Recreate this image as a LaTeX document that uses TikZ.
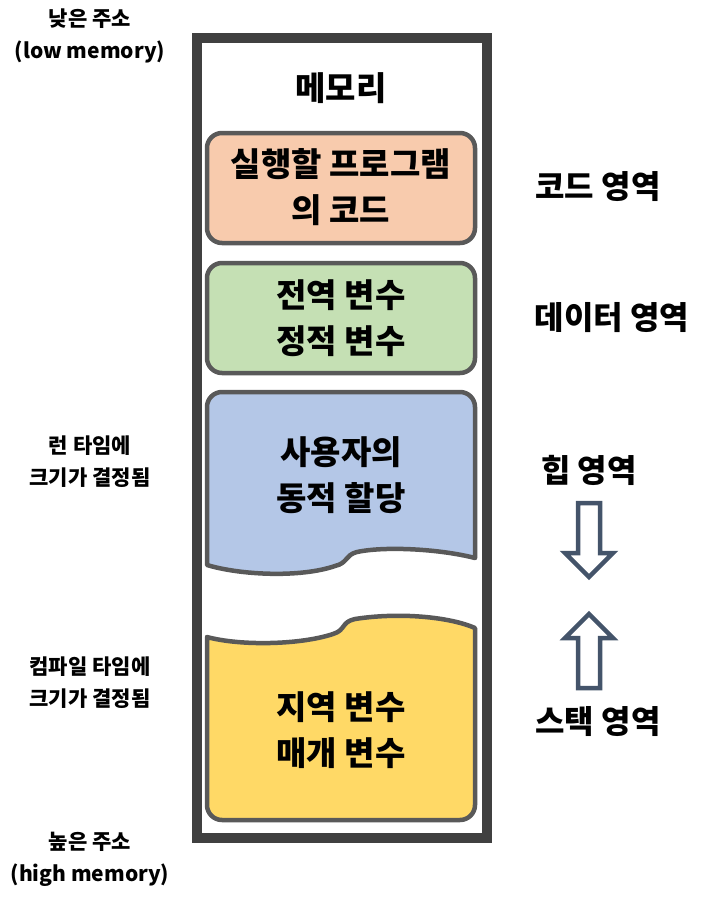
\documentclass[tikz,border=0pt]{standalone}
\usepackage{fontspec}
\setmainfont{Noto Sans CJK KR}
\definecolor{frame}{HTML}{404040}
\definecolor{boxline}{HTML}{595959}
\definecolor{codefill}{HTML}{F8CBAD}
\definecolor{datafill}{HTML}{C5E0B4}
\definecolor{heapfill}{HTML}{B4C7E7}
\definecolor{stackfill}{HTML}{FFD966}
\definecolor{arrowc}{HTML}{44546A}
\begin{document}
\begin{tikzpicture}[x=1pt,y=-1pt,
  region/.style={draw=boxline,line width=4.5pt,rounded corners=15pt},
  boxtext/.style={font=\bfseries\fontsize{33}{46}\selectfont,align=center,inner sep=0pt},
  sidetext/.style={font=\bfseries\fontsize{32}{36}\selectfont,inner sep=0pt},
  lefttext/.style={font=\bfseries\fontsize{21}{32}\selectfont,align=center,inner sep=0pt},
  hollowarrow/.style={draw=arrowc,line width=4.5pt,fill=white,line join=miter}]
\useasboundingbox (0,0) rectangle (721,905);
% outer frame
\draw[frame,line width=10pt] (197,38) rectangle (487,838);
\node[font=\bfseries\fontsize{33}{36}\selectfont,inner sep=0pt] (mem) at (341,88) {메모리};
% code
\draw[region,fill=codefill] (207,133) rectangle (475,243);
\node[boxtext] (code) at (341,187) {실행할 프로그램\\의 코드};
% data
\draw[region,fill=datafill] (207,263) rectangle (475,373);
\node[boxtext] (data) at (341,318) {전역 변수\\정적 변수};
% heap
\draw[draw=boxline,line width=4.5pt,fill=heapfill,line join=round]
  (207,565) -- (207,407) .. controls (207,398.7) and (213.7,392) .. (222,392)
  -- (460,392) .. controls (468.3,392) and (475,398.7) .. (475,407)
  -- (475,558) .. controls (440,549) and (385,546) .. (357,552)
  .. controls (345,555) and (348,563) .. (335,566)
  .. controls (300,578) and (240,575) .. (207,565) -- cycle;
\node[boxtext] (heap) at (341,475) {사용자의\\동적 할당};
% stack
\draw[draw=boxline,line width=4.5pt,fill=stackfill,line join=round]
  (207,637) .. controls (240,646) and (300,645) .. (333,634)
  .. controls (346,630) and (341,622) .. (355,619)
  .. controls (400,612) and (450,617) .. (475,628)
  -- (475,805) .. controls (475,813.3) and (468.3,820) .. (460,820)
  -- (222,820) .. controls (213.7,820) and (207,813.3) .. (207,805) -- cycle;
\node[boxtext] (stack) at (341,730) {지역 변수\\매개 변수};
% right labels
\node[sidetext] (codelbl) at (598,187) {코드 영역};
\node[sidetext] (datalbl) at (612,318) {데이터 영역};
\node[sidetext] (heaplbl) at (589,470) {힙 영역};
\node[sidetext] (stacklbl) at (598,722) {스택 영역};
% arrows
\draw[hollowarrow] (578,503) -- (600,503) -- (600,553) -- (613,553) -- (589,577) -- (565,553) -- (578,553) -- cycle;
\draw[hollowarrow] (578,688) -- (600,688) -- (600,638) -- (613,638) -- (589,614) -- (565,638) -- (578,638) -- cycle;
% left labels
\node[lefttext] (low) at (90,36) {낮은 주소\\(low memory)};
\node[lefttext] (runtime) at (90,462) {런 타임에\\크기가 결정됨};
\node[lefttext] (compile) at (90,683) {컴파일 타임에\\크기가 결정됨};
\node[lefttext] (high) at (90,859) {높은 주소\\(high memory)};
\end{tikzpicture}
\end{document}
